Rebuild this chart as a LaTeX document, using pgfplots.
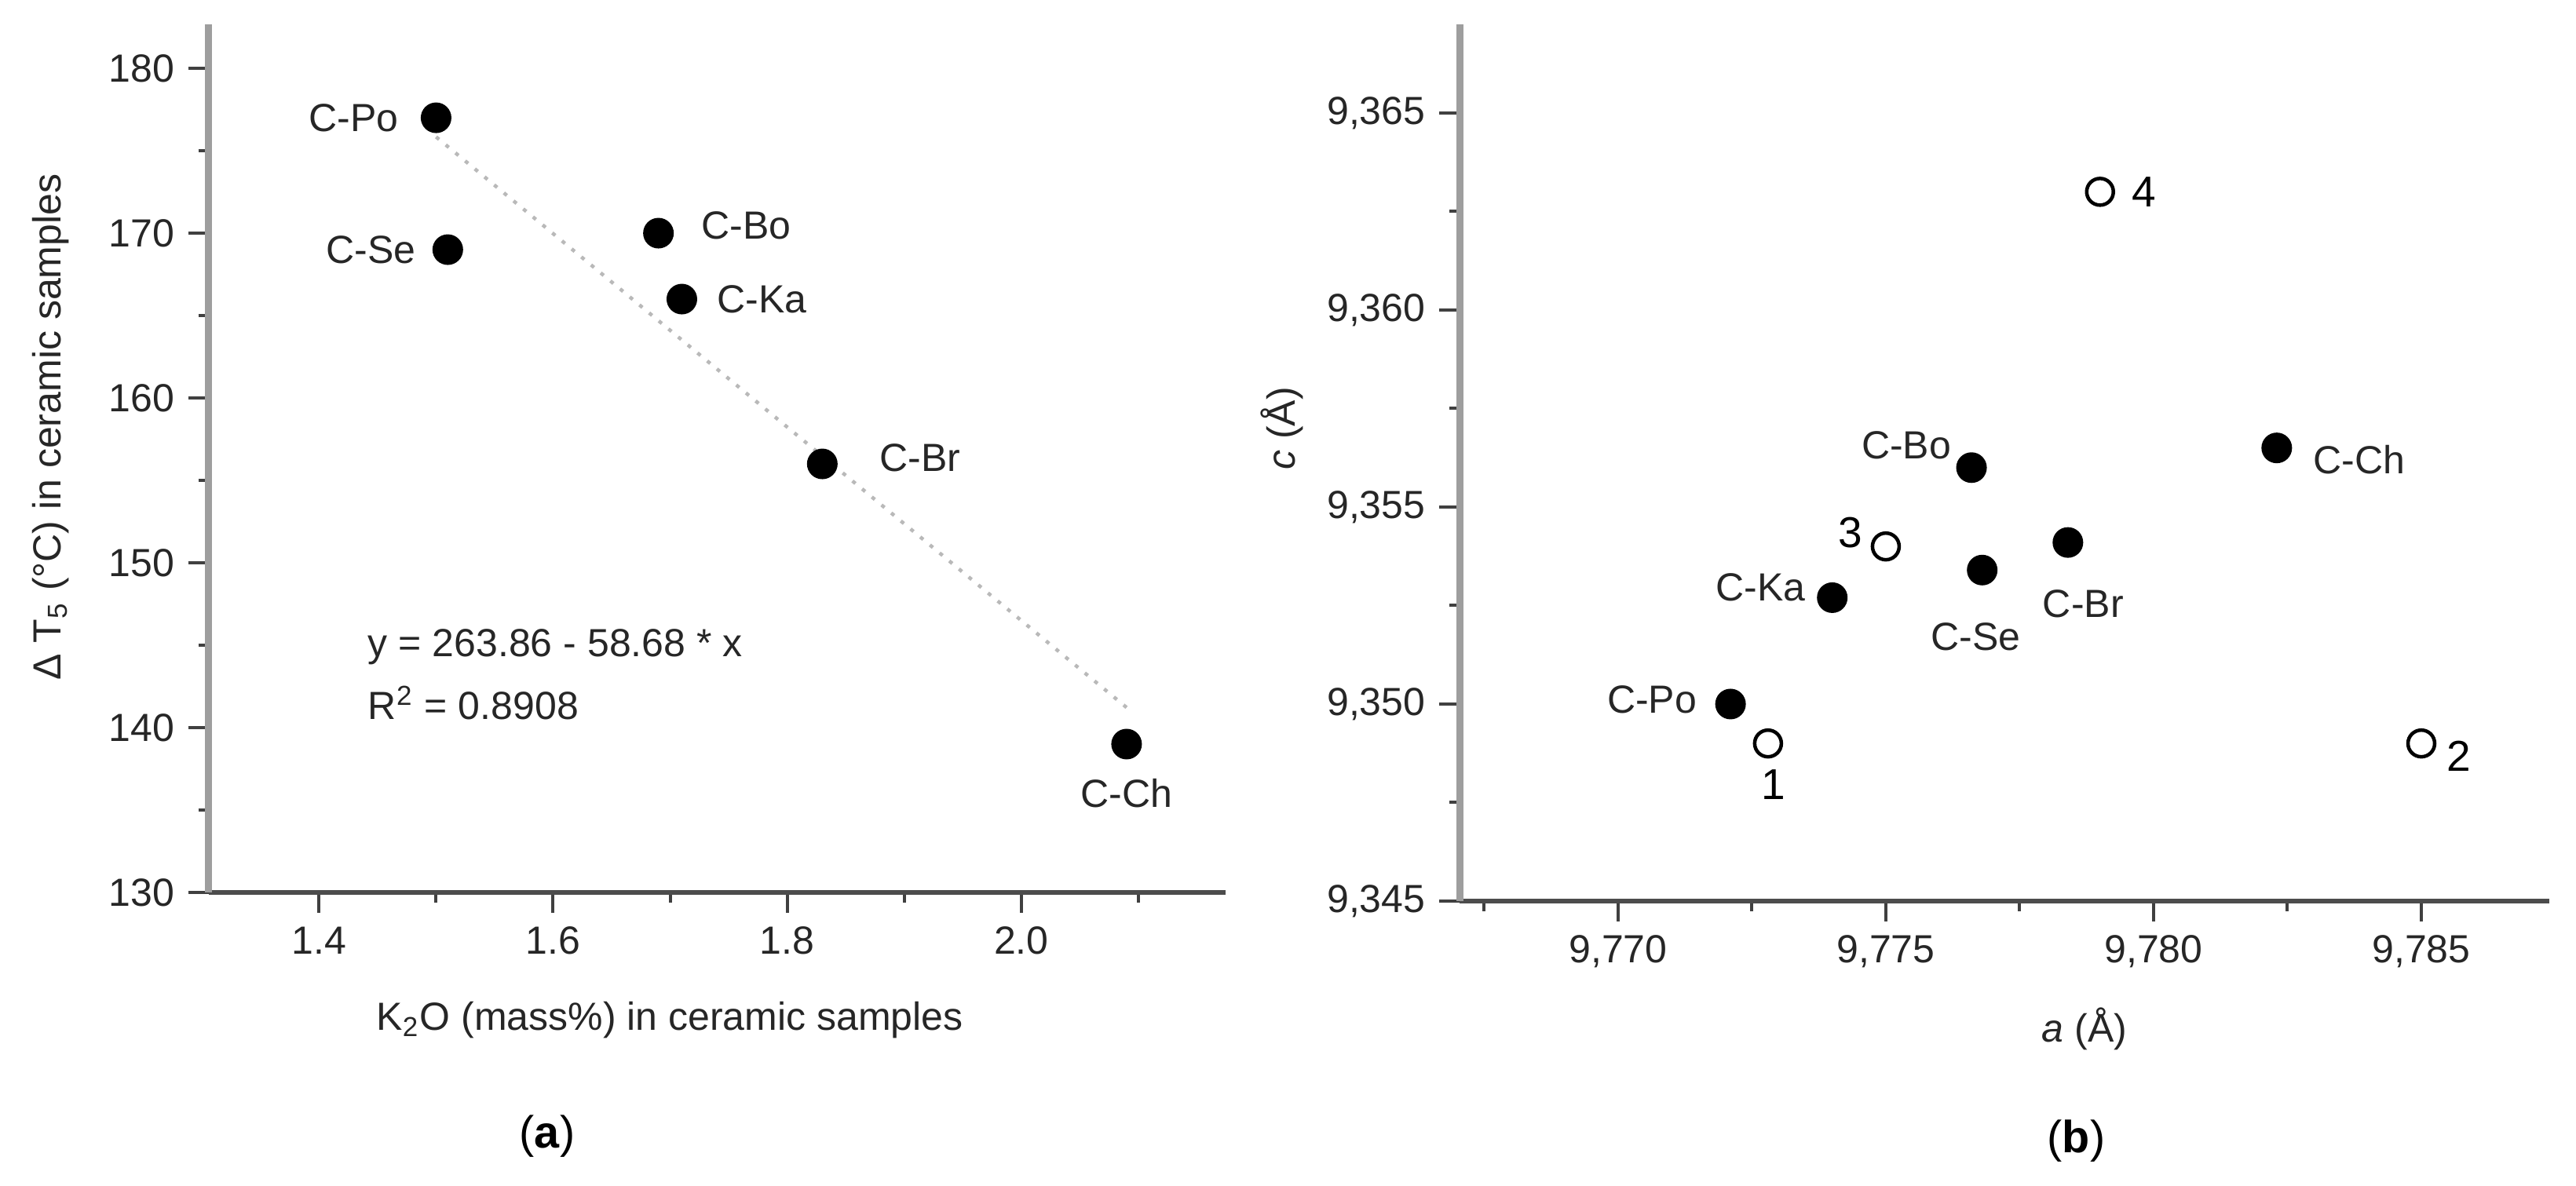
\documentclass[border=0pt]{standalone}
\usepackage{fontspec}
\setmainfont{Liberation Sans}
\usepackage{pgfplots}
\pgfplotsset{compat=1.18}

\pgfplotsset{
  panel/.style={
    scale only axis, clip=false,
    axis lines*=left,
    x axis line style={line width=1.2pt, black!70},
    y axis line style={line width=1.8pt, black!38},
    tick align=outside,
    major tick length=5.2pt, minor tick length=2.6pt,
    every tick/.style={black!75, line width=0.8pt},
    tick label style={font=\fontsize{10}{12}\selectfont, text=black!85},
    label style={font=\fontsize{10}{12}\selectfont, text=black!85},
    scaled ticks=false,
    /pgf/number format/assume math mode=true,
  },
  dot/.style={only marks, mark=*, mark size=3.7pt, black},
  ring/.style={only marks, mark=o, mark size=3.4pt, black, mark options={line width=0.9pt}},
}
\tikzset{
  lbl/.style={font=\fontsize{10}{12}\selectfont, text=black!85, inner sep=0pt},
  num/.style={font=\fontsize{11}{13}\selectfont, text=black, inner sep=0pt},
}

\begin{document}
\begin{tikzpicture}
\useasboundingbox (0,0) rectangle (656.2pt,302.2pt);

% (a) temperature interval vs K2O
\begin{axis}[panel, at={(53.1pt,74.8pt)}, anchor=south west,
  width=259.1pt, height=221.2pt,
  xmin=1.3055, xmax=2.1746, ymin=130, ymax=182.67,
  xtick={1.4,1.6,1.8,2.0}, minor xtick={1.5,1.7,1.9,2.1},
  ytick={130,140,150,160,170,180}, minor ytick={135,145,155,165,175},
  xticklabel style={/pgf/number format/.cd, fixed, fixed zerofill, precision=1},
  xlabel={K\textsubscript{2}O (mass\%) in ceramic samples},
  xlabel style={at={(axis description cs:0.4535,-0.159)}, anchor=base},
  ylabel={Δ T\textsubscript{5} (°C) in ceramic samples},
  ylabel style={at={(axis description cs:-0.1448,0.536)}, anchor=base}]
\addplot[gray!55, line width=0.9pt, dash pattern=on 1pt off 2.2pt] coordinates {(1.50,175.84) (2.09,141.22)};
\addplot[dot] coordinates {(1.50,177) (1.51,169) (1.69,170) (1.71,166) (1.83,156) (2.09,139)};
\node[lbl, anchor=east, xshift=-9.4pt] at (axis cs:1.50,177) {C-Po};
\node[lbl, anchor=east, xshift=-8pt] at (axis cs:1.51,169) {C-Se};
\node[lbl, anchor=west, xshift=10.8pt, yshift=1.9pt] at (axis cs:1.69,170) {C-Bo};
\node[lbl, anchor=west, xshift=8.8pt] at (axis cs:1.71,166) {C-Ka};
\node[lbl, anchor=west, xshift=14.4pt, yshift=1.6pt] at (axis cs:1.83,156) {C-Br};
\node[lbl, anchor=center, yshift=-12.5pt] at (axis cs:2.09,139) {C-Ch};
\node[lbl, anchor=west] at (axis cs:1.4413,144.9) {y = 263.86 - 58.68 * x};
\node[lbl, anchor=west] at (axis cs:1.4413,141.48) {R\textsuperscript{2} = 0.8908};
\end{axis}

% (b) lattice parameters
\begin{axis}[panel, at={(371.8pt,72.6pt)}, anchor=south west,
  width=277.6pt, height=223.4pt,
  xmin=9.76704, xmax=9.78739, ymin=9.345, ymax=9.36725,
  xtick={9.770,9.775,9.780,9.785}, minor xtick={9.7675,9.7725,9.7775,9.7825},
  ytick={9.345,9.350,9.355,9.360,9.365}, minor ytick={9.3475,9.3525,9.3575,9.3625},
  xticklabel style={/pgf/number format/.cd, use comma, fixed, fixed zerofill, precision=3},
  yticklabel style={/pgf/number format/.cd, use comma, fixed, fixed zerofill, precision=3},
  xlabel={\textit{a} (Å)},
  xlabel style={at={(axis description cs:0.5735,-0.161)}, anchor=base},
  ylabel={\textit{c} (Å)},
  ylabel style={at={(axis description cs:-0.1506,0.539)}, anchor=base}]
\addplot[dot] coordinates {(9.7721,9.3500) (9.7740,9.3527) (9.7768,9.3534) (9.7784,9.3541) (9.7766,9.3560) (9.7823,9.3565)};
\addplot[ring] coordinates {(9.7728,9.3490) (9.7850,9.3490) (9.7750,9.3540) (9.7790,9.3630)};
\node[lbl, anchor=east, xshift=-8.4pt, yshift=1.1pt] at (axis cs:9.7721,9.3500) {C-Po};
\node[lbl, anchor=east, xshift=-6.6pt, yshift=2.7pt] at (axis cs:9.7740,9.3527) {C-Ka};
\node[lbl, anchor=center, xshift=-1.7pt, yshift=-17pt] at (axis cs:9.7768,9.3534) {C-Se};
\node[lbl, anchor=center, xshift=3.9pt, yshift=-15.7pt] at (axis cs:9.7784,9.3541) {C-Br};
\node[lbl, anchor=east, xshift=-5pt, yshift=5.7pt] at (axis cs:9.7766,9.3560) {C-Bo};
\node[lbl, anchor=west, xshift=9.1pt, yshift=-2.9pt] at (axis cs:9.7823,9.3565) {C-Ch};
\node[num, anchor=center, xshift=1.4pt, yshift=-10.5pt] at (axis cs:9.7728,9.3490) {1};
\node[num, anchor=center, xshift=9.6pt, yshift=-3.3pt] at (axis cs:9.7850,9.3490) {2};
\node[num, anchor=center, xshift=-9.1pt, yshift=3.6pt] at (axis cs:9.7750,9.3540) {3};
\node[num, anchor=west, xshift=8pt] at (axis cs:9.7790,9.3630) {4};
\end{axis}

\node[font=\fontsize{11.5}{13}\selectfont] at (139.4pt,12.6pt) {(\textbf{a})};
\node[font=\fontsize{11.5}{13}\selectfont] at (528.9pt,11.4pt) {(\textbf{b})};
\end{tikzpicture}
\end{document}
